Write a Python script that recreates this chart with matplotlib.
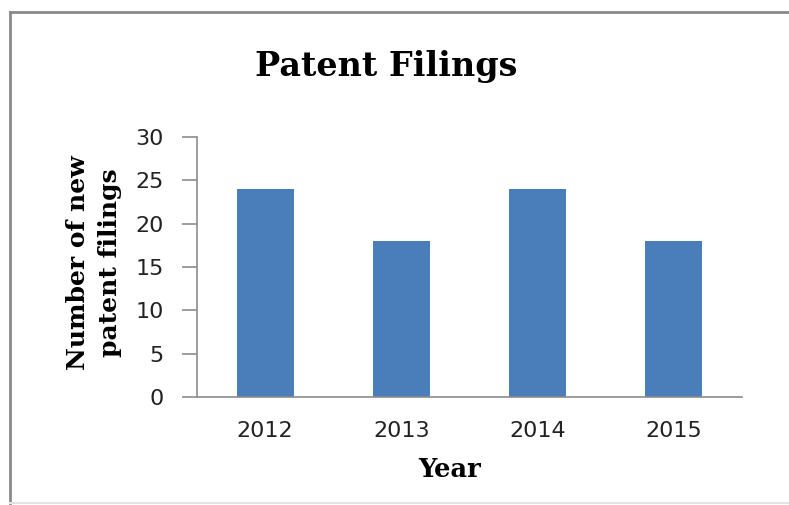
import matplotlib.pyplot as plt
from matplotlib.lines import Line2D

years = ["2012", "2013", "2014", "2015"]
filings = [24, 18, 24, 18]
yticks = [0, 5, 10, 15, 20, 25, 30]

fig = plt.figure(figsize=(7.89, 5.05), dpi=100)
ax = fig.add_axes([0.2497, 0.2139, 0.6907, 0.5148])

x = list(range(len(years)))
ax.bar(x, filings, width=0.42, color="#4A7EBB")
ax.set_xlim(-0.5, 3.5)
ax.set_ylim(0, 30)
ax.set_yticks(yticks)
ax.set_xticks(x)
ax.set_xticklabels(years)

for s in ["top", "right"]:
    ax.spines[s].set_visible(False)
for s in ["left", "bottom"]:
    ax.spines[s].set_color("#8c8c8c")
    ax.spines[s].set_linewidth(1.2)

ax.tick_params(axis="y", direction="out", length=11, width=1.2, color="#8c8c8c",
               pad=13, labelsize=16, labelcolor="#222222")
ax.tick_params(axis="x", length=0, pad=17, labelsize=16, labelcolor="#222222")
for lab in ax.get_xticklabels() + ax.get_yticklabels():
    lab.set_fontfamily("DejaVu Sans")

fig.text(0.489, 0.8495, "Patent Filings", ha="center", va="baseline",
         fontsize=24, fontweight="bold", family="DejaVu Serif")
fig.text(0.570, 0.0554, "Year", ha="center", va="baseline",
         fontsize=18.5, fontweight="bold", family="DejaVu Serif")
fig.text(0.119, 0.479, "Number of new\npatent filings", ha="center", va="center",
         rotation=90, fontsize=18, fontweight="bold", family="DejaVu Serif",
         linespacing=1.4)

# outer frame: dark top and left edge, faint bottom, no right edge
x0, y0, y1 = 9.5 / 789, 1 - 503 / 505, 1 - 12 / 505
fig.lines.append(Line2D([x0, 1], [y1, y1], transform=fig.transFigure,
                        color="#8a8a8a", linewidth=2))
fig.lines.append(Line2D([x0, x0], [y0, y1], transform=fig.transFigure,
                        color="#8a8a8a", linewidth=2))
fig.lines.append(Line2D([x0, 1], [y0, y0], transform=fig.transFigure,
                        color="#e4e4e4", linewidth=1.5))

fig.savefig("out.png", dpi=100)
